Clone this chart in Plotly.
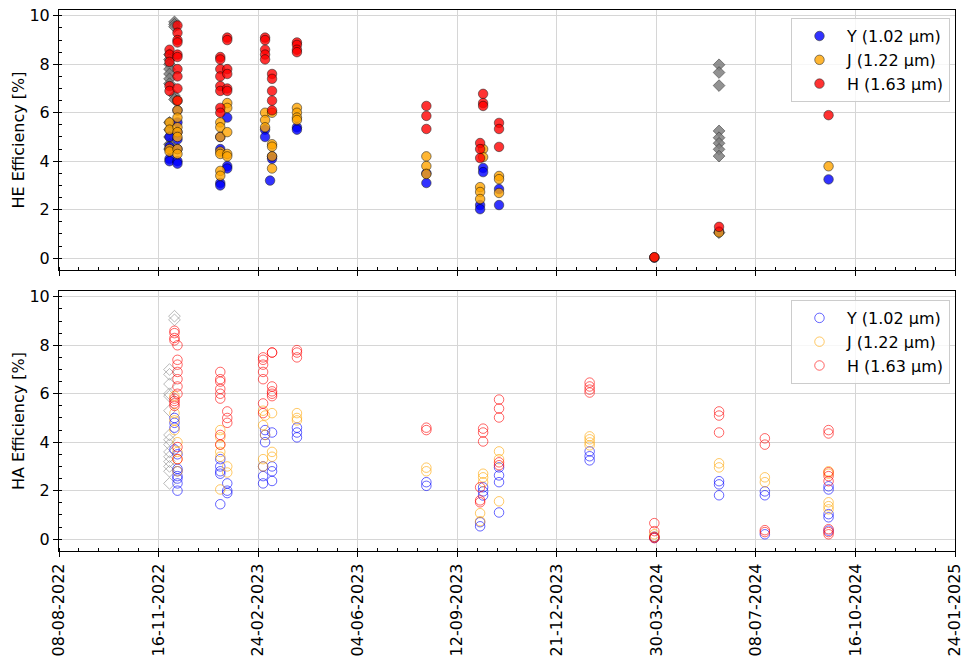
import plotly.graph_objects as go
from plotly.subplots import make_subplots

# ---------------- data (date -> efficiency values [%]) ----------------
# HE (top panel)
he_ref = {  # gray diamonds
    "2022-11-27": [8.4, 8.2, 8.0, 7.8, 7.6, 7.4, 7.2, 5.6, 5.3, 5.0, 4.7, 4.5],
    "2022-12-02": [9.75, 9.65, 9.55, 6.7, 6.55],
    "2024-06-01": [7.98, 7.66, 7.12, 5.25, 4.97, 4.74, 4.49, 4.21, 1.05],
}
he_y = {
    "2022-11-27": [5.0, 4.6, 4.1, 4.0],
    "2022-12-05": [6.1, 5.6, 5.2, 4.9, 4.5, 4.0, 3.9],
    "2023-01-17": [5.0, 4.5, 3.1, 3.0],
    "2023-01-24": [5.8, 3.8, 3.7],
    "2023-03-03": [5.3, 5.0],
    "2023-03-08": [3.2],
    "2023-03-10": [4.2, 4.1],
    "2023-04-04": [5.4, 5.3],
    "2023-08-12": [3.5, 3.1],
    "2023-10-05": [2.19, 2.02],
    "2023-10-08": [3.72, 3.55],
    "2023-10-24": [2.85, 2.19],
    "2024-03-28": [0.02],
    "2024-06-01": [1.1],
    "2024-09-19": [3.25],
}
he_j = {
    "2022-11-27": [5.6, 5.3, 4.5, 4.4],
    "2022-12-05": [6.5, 6.1, 5.8, 5.4, 5.2, 5.0, 4.5, 4.3],
    "2023-01-17": [5.6, 5.4, 5.0, 4.4, 4.3, 3.6, 3.4],
    "2023-01-24": [6.4, 6.2, 5.2, 4.3, 4.2],
    "2023-03-03": [6.0, 5.7, 5.4],
    "2023-03-10": [6.0, 4.7, 4.6, 4.2, 3.7],
    "2023-04-04": [6.2, 6.0, 5.8, 5.7],
    "2023-08-12": [4.2, 3.8, 3.47],
    "2023-10-05": [2.93, 2.73, 2.44],
    "2023-10-08": [4.5, 4.17],
    "2023-10-24": [3.39, 3.26, 2.69],
    "2024-03-28": [0.03],
    "2024-06-01": [1.06],
    "2024-09-19": [3.79],
}
he_h = {
    "2022-11-27": [8.6, 8.4, 8.1, 7.1, 6.9],
    "2022-12-05": [9.6, 9.3, 9.0, 8.9, 8.4, 8.3, 7.8, 7.5, 7.0, 6.5],
    "2023-01-17": [8.3, 8.2, 7.8, 7.5, 7.1, 6.9, 6.2, 6.0],
    "2023-01-24": [9.1, 9.0, 7.8, 7.6, 7.0, 6.9],
    "2023-03-03": [9.1, 9.0, 8.6, 8.4, 8.2],
    "2023-03-10": [7.6, 7.4, 6.9, 6.5, 6.1],
    "2023-04-04": [8.9, 8.8, 8.6, 8.5],
    "2023-08-12": [6.28, 5.87, 5.33],
    "2023-10-05": [4.75, 4.5, 4.13],
    "2023-10-08": [6.78, 6.4, 6.28],
    "2023-10-24": [5.58, 5.33, 4.59],
    "2024-03-28": [0.04],
    "2024-06-01": [1.29],
    "2024-09-19": [5.9],
}

# HA (bottom panel)
ha_ref = {
    "2022-11-27": [7.0, 6.8, 6.4, 6.0, 5.9, 5.3, 4.3, 4.1, 3.9, 3.6, 3.4, 3.2, 3.0, 2.8, 2.3],
    "2022-12-02": [9.2, 9.05],
}
ha_y = {
    "2022-12-02": [5.0, 4.8, 4.6, 3.7],
    "2022-12-05": [3.5, 2.9, 2.8, 2.6, 2.5, 2.3, 2.0],
    "2023-01-17": [3.3, 3.0, 2.8, 2.7, 1.44],
    "2023-01-24": [2.3, 2.0, 1.9],
    "2023-03-01": [3.0, 2.6, 2.3],
    "2023-03-03": [4.5, 4.3, 4.0],
    "2023-03-10": [4.4, 3.0, 2.8, 2.4],
    "2023-04-04": [4.6, 4.4, 4.2],
    "2023-08-12": [2.35, 2.2],
    "2023-10-05": [0.7, 0.53],
    "2023-10-08": [2.14, 1.97, 1.8],
    "2023-10-24": [2.96, 2.63, 2.35, 1.1],
    "2024-01-23": [3.62, 3.42, 3.25],
    "2024-03-28": [0.1, 0.05],
    "2024-06-01": [2.39, 2.26, 1.81],
    "2024-07-17": [1.97, 1.81, 0.2],
    "2024-09-19": [2.18, 2.05, 1.03, 0.9, 0.35],
}
ha_j = {
    "2022-12-02": [5.9, 5.2, 4.9, 4.5],
    "2022-12-05": [4.0, 3.6, 3.3, 2.8],
    "2023-01-17": [4.5, 4.2, 3.9, 3.6, 3.4, 2.05],
    "2023-01-24": [3.0, 2.75],
    "2023-03-01": [5.3, 4.7, 3.3, 3.0],
    "2023-03-03": [5.1, 4.3],
    "2023-03-10": [5.2, 3.6, 3.4],
    "2023-04-04": [5.2, 5.0, 4.9],
    "2023-08-12": [2.95, 2.8],
    "2023-10-05": [1.07, 0.74],
    "2023-10-08": [2.7, 2.55, 2.35],
    "2023-10-24": [3.62, 3.3, 1.56],
    "2024-01-23": [4.24, 4.12, 3.99, 3.87],
    "2024-03-28": [0.2, 0.1],
    "2024-06-01": [3.13, 2.96],
    "2024-07-17": [2.55, 2.35],
    "2024-09-19": [2.8, 2.7, 1.52, 1.36, 1.23],
}
ha_h = {
    "2022-12-02": [8.6, 8.5, 8.3, 8.2, 5.8, 5.7, 5.6, 5.5],
    "2022-12-05": [8.0, 7.4, 7.2, 6.9, 6.6, 6.3, 6.0, 3.8, 3.3],
    "2023-01-17": [6.9, 6.6, 6.5, 6.2, 6.0, 5.8, 4.3, 3.9],
    "2023-01-24": [5.27, 5.0, 4.8],
    "2023-03-01": [7.5, 7.4, 7.2, 6.9, 6.6, 5.6, 5.2],
    "2023-03-10": [7.7, 7.7, 6.3, 6.1, 6.0, 5.9],
    "2023-04-04": [7.8, 7.7, 7.5],
    "2023-08-12": [4.6, 4.5],
    "2023-10-05": [2.14, 1.6, 1.52],
    "2023-10-08": [4.56, 4.4, 4.03],
    "2023-10-24": [5.76, 5.39, 5.02, 3.17, 3.05],
    "2024-01-23": [6.46, 6.3, 6.17, 6.05],
    "2024-03-28": [0.66, 0.33, 0.08, 0.04],
    "2024-06-01": [5.27, 5.1, 4.4],
    "2024-07-17": [4.16, 3.9, 0.37, 0.29],
    "2024-09-19": [4.5, 4.36, 2.76, 2.6, 2.39, 0.41, 0.29, 0.2],
}

band_names = ["Y (1.02 µm)", "J (1.22 µm)", "H (1.63 µm)"]
band_colors = ["0,0,255", "255,165,0", "255,0,0"]


def expand(d):
    xs, ys = [], []
    for k, vals in d.items():
        for v in vals:
            xs.append(k)
            ys.append(v)
    return xs, ys


FONT = "DejaVu Sans"
FS = 16

fig = make_subplots(rows=2, cols=1, shared_xaxes=True)

# ---- top panel ----
x, y = expand(he_ref)
fig.add_trace(go.Scatter(x=x, y=y, mode="markers", showlegend=False,
                         marker=dict(symbol="diamond", size=9, color="rgb(128,128,128)",
                                     opacity=0.85, line=dict(color="rgb(50,50,50)", width=0.7))),
              row=1, col=1)
for name, col, d in zip(band_names, band_colors, [he_y, he_j, he_h]):
    x, y = expand(d)
    fig.add_trace(go.Scatter(x=x, y=y, mode="markers", name=name, legend="legend",
                             marker=dict(symbol="circle", size=9.5, color=f"rgb({col})",
                                         opacity=0.8, line=dict(color="black", width=0.6))),
                  row=1, col=1)

# ---- bottom panel ----
x, y = expand(ha_ref)
fig.add_trace(go.Scatter(x=x, y=y, mode="markers", showlegend=False,
                         marker=dict(symbol="diamond-open", size=9, color="rgba(128,128,128,0.55)",
                                     line=dict(width=1))),
              row=2, col=1)
for name, col, d in zip(band_names, band_colors, [ha_y, ha_j, ha_h]):
    x, y = expand(d)
    fig.add_trace(go.Scatter(x=x, y=y, mode="markers", name=name, legend="legend2",
                             marker=dict(symbol="circle-open", size=9.5, color=f"rgba({col},0.6)",
                                         line=dict(width=1))),
                  row=2, col=1)

DAY = 86400000
xcommon = dict(
    range=["2022-08-08", "2025-01-24"], type="date", automargin=False,
    tick0="2022-08-08", dtick=100 * DAY, tickformat="%d-%m-%Y",
    ticklabeloverflow="allow",
    showline=True, linecolor="black", linewidth=1.1, mirror=True,
    ticks="outside", ticklen=5, tickwidth=1, tickcolor="black",
    showgrid=True, gridcolor="rgb(214,214,214)", gridwidth=1, zeroline=False,
    minor=dict(tick0="2022-08-08", dtick=20 * DAY, ticks="inside", ticklen=3,
               tickwidth=1, tickcolor="black", showgrid=False),
    tickfont=dict(family=FONT, size=FS, color="black"),
)
ycommon = dict(
    range=[-0.49, 10.24], tick0=0, dtick=2, automargin=False,
    ticklabeloverflow="allow",
    showline=True, linecolor="black", linewidth=1.1, mirror=True,
    ticks="outside", ticklen=5, tickwidth=1, tickcolor="black",
    showgrid=True, gridcolor="rgb(214,214,214)", gridwidth=1, zeroline=False,
    minor=dict(tick0=0, dtick=0.5, ticks="inside", ticklen=3, tickwidth=1,
               tickcolor="black", showgrid=False),
    tickfont=dict(family=FONT, size=FS, color="black"),
)

fig.update_xaxes(**xcommon)
fig.update_xaxes(showticklabels=False, row=1, col=1)
fig.update_xaxes(tickangle=-90, row=2, col=1)
fig.update_yaxes(**ycommon)
fig.update_yaxes(title=dict(text="HE Efficiency [%]", font=dict(family=FONT, size=FS, color="black"), standoff=0),
                 domain=[0.5194, 1.0], row=1, col=1)
fig.update_yaxes(title=dict(text="HA Efficiency [%]", font=dict(family=FONT, size=FS, color="black"), standoff=0),
                 domain=[0.0, 0.4806], row=2, col=1)

legend_style = dict(
    bgcolor="rgba(255,255,255,0.8)", bordercolor="rgb(204,204,204)", borderwidth=1,
    font=dict(family=FONT, size=FS, color="black"), xanchor="right", yanchor="top",
    itemwidth=45,
)
fig.update_layout(
    width=972, height=666,
    margin=dict(l=59, r=17, t=10, b=115, autoexpand=False),
    paper_bgcolor="white", plot_bgcolor="white",
    font=dict(family=FONT, size=FS, color="black"),
    legend=dict(x=0.9944, y=0.985, **legend_style),
    legend2=dict(x=0.9944, y=0.464, **legend_style),
)

# remove the default 8px page margin so the figure fills the window exactly
fig.write_html("out.html",
               config={"displayModeBar": False},
               post_script="document.body.style.margin='0';document.body.style.overflow='hidden';")
